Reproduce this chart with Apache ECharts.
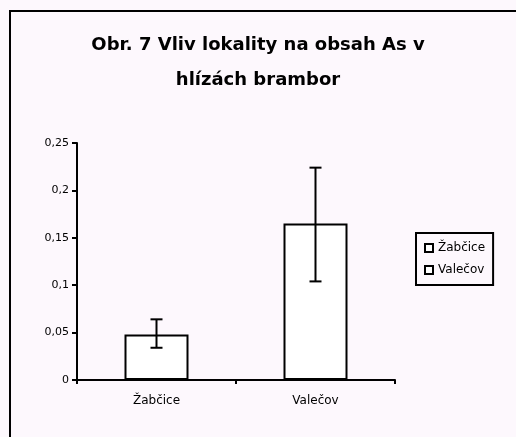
<!DOCTYPE html>
<html><head><meta charset="utf-8">
<script src="https://cdn.jsdelivr.net/npm/echarts@6/dist/echarts.min.js"></script>
<style>html,body{margin:0;padding:0;background:#fdf8fd;}#c{width:516px;height:437px;}</style>
</head><body><div id="c"></div>
<script>
const categories = ['Žabčice', 'Valečov'];
const meanValues = [0.048, 0.165];
const errLow = [0.034, 0.104];
const errHigh = [0.064, 0.224];
const yTicks = [0, 0.05, 0.1, 0.15, 0.2, 0.25];
const titleText = 'Obr. 7 Vliv lokality na obsah As v\nhlízách brambor';

const chart = echarts.init(document.getElementById('c'), null, {renderer: 'canvas'});
const font = 'DejaVu Sans';
const barSeries = categories.map((name, i) => ({
  name: name,
  type: 'bar',
  stack: 'all',
  barWidth: 64,
  data: categories.map((c, j) => j === i ? meanValues[i] : '-'),
  itemStyle: {color: '#ffffff', borderColor: '#000000', borderWidth: 2},
  emphasis: {disabled: true}
}));
chart.setOption({
  backgroundColor: '#fdf8fd',
  animation: false,
  textStyle: {fontFamily: font, color: '#000'},
  title: {
    text: titleText, left: 'center', top: 23,
    textStyle: {fontFamily: font, fontSize: 18, fontWeight: 'bold', color: '#000', lineHeight: 35}
  },
  graphic: [{
    type: 'rect', shape: {x: 10, y: 11, width: 520, height: 440},
    style: {fill: null, stroke: '#000', lineWidth: 2}, silent: true
  }],
  legend: {
    data: categories.map(n => ({name: n, icon: 'rect'})),
    orient: 'vertical', left: 416, top: 233,
    padding: [9, 8, 9, 8], itemGap: 10,
    itemWidth: 8, itemHeight: 8,
    borderColor: '#000', borderWidth: 2, borderRadius: 0,
    textStyle: {fontFamily: font, fontSize: 12, color: '#000'},
    selectedMode: false
  },
  grid: {left: 77, right: 121, top: 143, bottom: 57},
  xAxis: {
    type: 'category', data: categories,
    axisLine: {lineStyle: {color: '#000', width: 2}},
    axisTick: {show: true, length: 4, lineStyle: {color: '#000', width: 2}},
    axisLabel: {fontFamily: font, fontSize: 12, color: '#000', margin: 15}
  },
  yAxis: {
    type: 'value', min: yTicks[0], max: yTicks[yTicks.length - 1], interval: 0.05,
    axisLine: {show: true, lineStyle: {color: '#000', width: 2}},
    axisTick: {show: true, length: 5, lineStyle: {color: '#000', width: 2}},
    splitLine: {show: false},
    axisLabel: {fontFamily: font, fontSize: 11, color: '#000', margin: 8,
      formatter: v => String(Math.round(v * 100) / 100).replace('.', ',')}
  },
  series: barSeries.concat([{
    type: 'custom',
    name: 'err',
    z: 10,
    data: categories.map((c, i) => [i, errLow[i], errHigh[i]]),
    renderItem: function (params, api) {
      const x = api.value(0);
      const lo = api.coord([x, api.value(1)]);
      const hi = api.coord([x, api.value(2)]);
      const hw = 6;
      const st = {stroke: '#000', lineWidth: 2};
      return {type: 'group', children: [
        {type: 'line', shape: {x1: lo[0], y1: lo[1], x2: hi[0], y2: hi[1]}, style: st},
        {type: 'line', shape: {x1: lo[0] - hw, y1: lo[1], x2: lo[0] + hw, y2: lo[1]}, style: st},
        {type: 'line', shape: {x1: hi[0] - hw, y1: hi[1], x2: hi[0] + hw, y2: hi[1]}, style: st}
      ]};
    }
  }])
});
</script></body></html>
